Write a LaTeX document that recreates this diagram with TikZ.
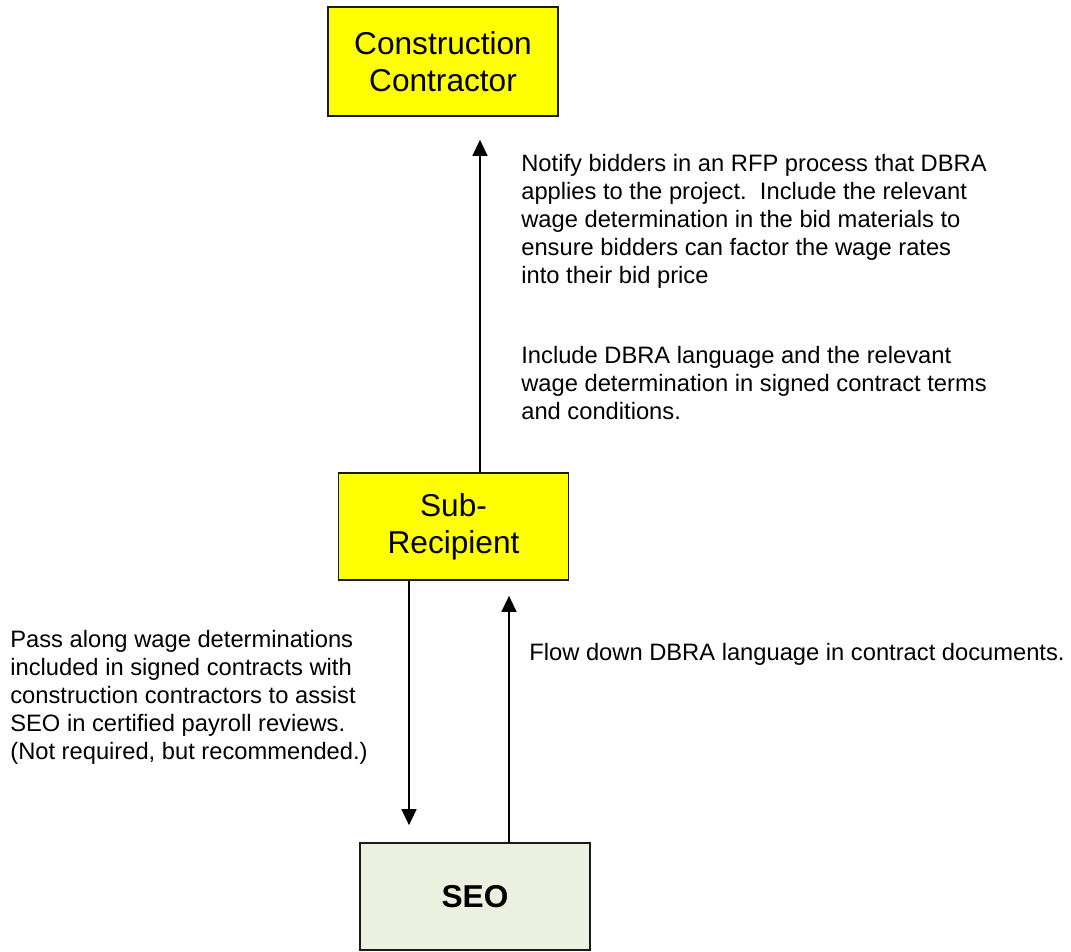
\documentclass[tikz,border=0pt]{standalone}
\usepackage{fontspec}
\setmainfont{Liberation Sans}
\usetikzlibrary{arrows.meta, positioning}
\definecolor{BoxYellow}{HTML}{FFFF00}
\definecolor{SEOGreen}{HTML}{EBF1DE}
\definecolor{BoxEdge}{HTML}{1A1A1A}

\begin{document}
\begin{tikzpicture}[x=0.02cm, y=-0.02cm,
  party/.style={rectangle, fill=BoxYellow, draw=BoxEdge, line width=1pt, inner sep=0pt,
    font=\fontsize{18}{21}\selectfont, minimum width=4.6cm, minimum height=2.14cm, align=center},
  agency/.style={party, fill=SEOGreen, font=\fontsize{18}{21}\selectfont\bfseries},
  note/.style={inner sep=0pt, anchor=north west, align=left,
    font=\fontsize{13.5}{15.9}\selectfont},
  flow/.style={-{Triangle[width=0.3cm, length=0.32cm]}, line width=0.8pt, color=black}
]
\useasboundingbox (0,0) rectangle (1071,952);

\node[party, minimum height=2.18cm] (cc) at (443,61.5) {Construction\\Contractor};
\node[party]  (sub) at (453.5,526.5) {Sub-\\Recipient};
\node[agency] (seo) at (475,896.5)   {SEO};

\node[note] (notify)  at (521,154) {Notify bidders in an RFP process that DBRA\\
  applies to the project.\ \ Include the relevant\\
  wage determination in the bid materials to\\
  ensure bidders can factor the wage rates\\
  into their bid price};
\node[note] (include) at (521,346) {Include DBRA language and the relevant\\
  wage determination in signed contract terms\\
  and conditions.};
\node[note] (pass)    at (10,630)  {Pass along wage determinations\\
  included in signed contracts with\\
  construction contractors to assist\\
  SEO in certified payroll reviews.\\
  (Not required, but recommended.)};
\node[note] (flowdown) at (529,643) {Flow down DBRA language in contract documents.};

\coordinate (upx)   at (480,0);
\coordinate (downx) at (409,0);
\coordinate (backx) at (509,0);

\draw[flow, shorten >=0.46cm] (sub.north -| upx)   -- (cc.south -| upx);
\draw[flow, shorten >=0.34cm] (sub.south -| downx) -- (seo.north -| downx);
\draw[flow, shorten >=0.30cm] (seo.north -| backx) -- (sub.south -| backx);
\end{tikzpicture}
\end{document}
